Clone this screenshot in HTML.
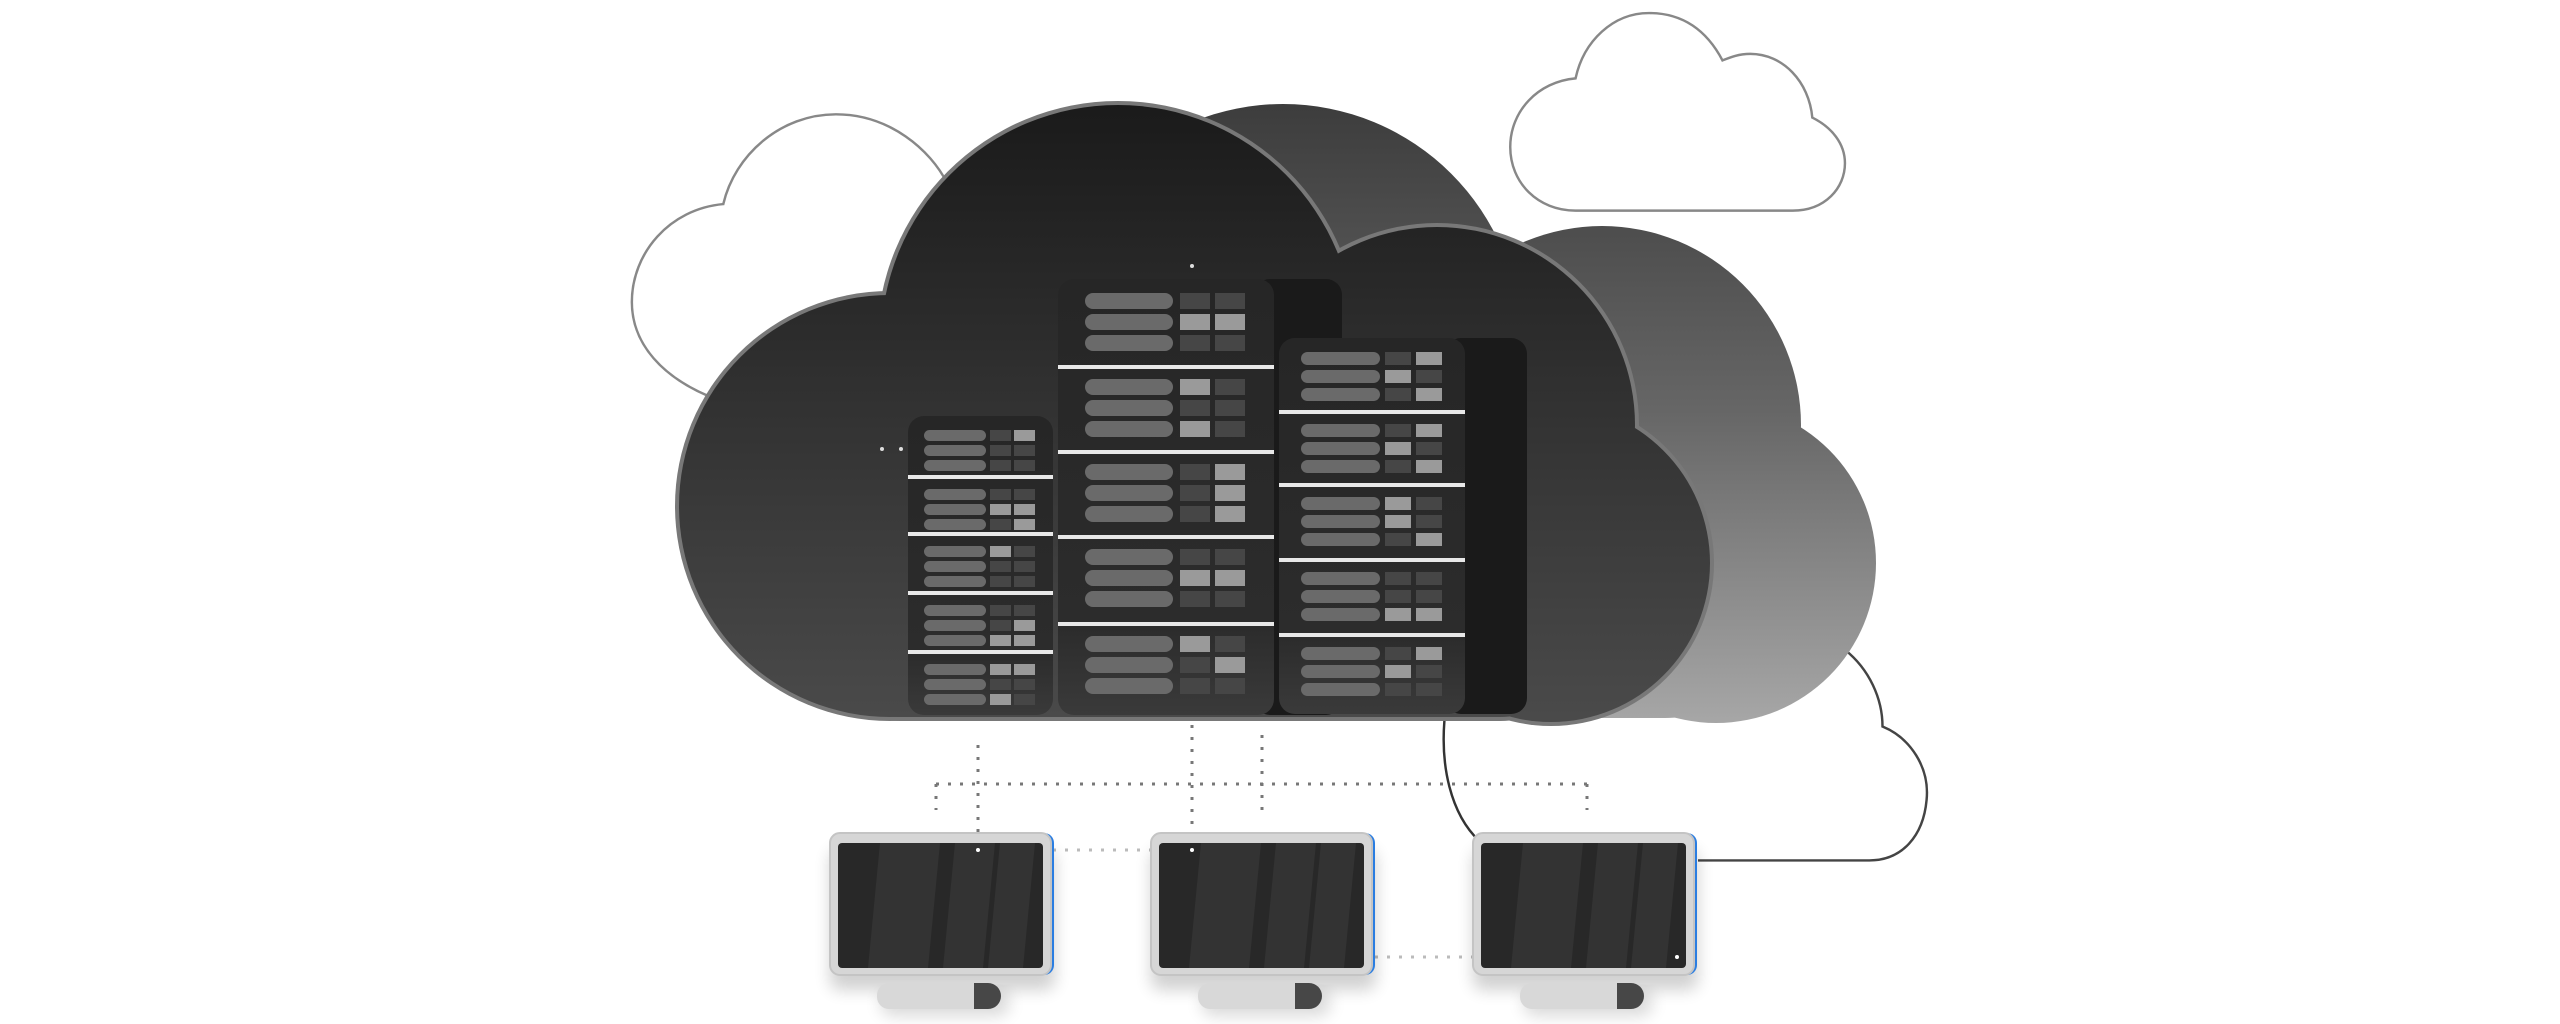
<!DOCTYPE html>
<html><head><meta charset="utf-8"><style>html,body{margin:0;padding:0;background:#fff;width:2560px;height:1024px;overflow:hidden}</style></head>
<body>
<svg id="s" width="2560" height="1024" viewBox="0 0 2560 1024" xmlns="http://www.w3.org/2000/svg">
<defs>
<linearGradient id="gb" gradientUnits="userSpaceOnUse" x1="0" y1="100" x2="0" y2="720"><stop offset="0" stop-color="#3c3c3c"/><stop offset="0.5" stop-color="#666"/><stop offset="1" stop-color="#a6a6a6"/></linearGradient>
<linearGradient id="gf" gradientUnits="userSpaceOnUse" x1="0" y1="100" x2="0" y2="720"><stop offset="0" stop-color="#1a1a1a"/><stop offset="1" stop-color="#4a4a4a"/></linearGradient>
<linearGradient id="gr" x1="0" y1="0" x2="0" y2="1"><stop offset="0" stop-color="#262626"/><stop offset="0.8" stop-color="#2c2c2c"/><stop offset="1" stop-color="#3a3a3a"/></linearGradient>
<filter id="sh" x="-20%" y="-20%" width="140%" height="160%"><feGaussianBlur stdDeviation="8"/></filter>
</defs>
<g transform="scale(1.6327)" stroke-width="1.5" fill="#fff">
<!-- back left outline cloud -->
<path d="M440,245 C405,232 387,210 387,185 C387,155 410,128 443,125 C450,95 478,70 512,70 C545,70 570,92 580,112 L580,245 Z" stroke="#888"/>
<!-- top right outline cloud -->
<path d="M965,129 L1098,129 C1118,129 1130,115 1130,100 C1130,88 1122,78 1110,72 C1108,50 1092,33 1072,33 C1065,33 1060,35 1055,37 C1045,18 1030,8 1010,8 C988,8 970,25 965,48 C942,50 925,68 925,90 C925,112 942,129 965,129 Z" stroke="#888"/>
<!-- lower right outline cloud -->
<path d="M1130,398 C1145,410 1153,428 1153,445 C1170,452 1182,470 1180,490 C1178,512 1165,527 1145,527 L1040,527" fill="none" stroke="#444"/>
<path d="M886,430 C880,470 890,500 906,515" fill="none" stroke="#333"/>
</g>
<!-- back extruded cloud -->
<g transform="translate(165,0)" fill="url(#gb)">
<circle cx="890" cy="506" r="212"/><circle cx="1118" cy="342" r="238"/><circle cx="1437" cy="425" r="199"/><circle cx="1551" cy="563" r="160"/>
<rect x="800" y="500" width="800" height="218" rx="100"/>
</g>
<!-- front cloud -->
<g fill="#787878">
<circle cx="890" cy="506" r="215"/><circle cx="1118" cy="342" r="241"/><circle cx="1437" cy="425" r="202"/><circle cx="1551" cy="563" r="163"/>
<rect x="797" y="500" width="806" height="221" rx="103"/>
</g>
<g fill="url(#gf)">
<circle cx="890" cy="506" r="211"/><circle cx="1118" cy="342" r="237"/><circle cx="1437" cy="425" r="198"/><circle cx="1551" cy="563" r="159"/>
<rect x="801" y="500" width="798" height="217" rx="99"/>
</g>
<g id="racks"></g>
<g fill="#ddd"><circle cx="1192" cy="266" r="2"/><circle cx="882" cy="449" r="2"/><circle cx="901" cy="449" r="2"/></g>
<g stroke="#777" stroke-width="3" stroke-dasharray="3 9" fill="none">
<line x1="936" y1="784" x2="1587" y2="784"/>
<line x1="978" y1="745" x2="978" y2="849"/>
<line x1="1192" y1="725" x2="1192" y2="849"/>
<line x1="1262" y1="735" x2="1262" y2="810"/>
<line x1="936" y1="784" x2="936" y2="810"/>
<line x1="1587" y1="784" x2="1587" y2="810"/>
<line x1="1053" y1="850" x2="1151" y2="850" stroke="#bbb"/>
<line x1="1375" y1="957" x2="1473" y2="957" stroke="#bbb"/>
</g>
<g id="mons"></g>
</svg>
<script>
var NS="http://www.w3.org/2000/svg";
function el(p,t,a){var e=document.createElementNS(NS,t);for(var k in a)e.setAttribute(k,a[k]);p.appendChild(e);return e;}
var R=document.getElementById('racks');
var seed=7;function rnd(){seed=(seed*9301+49297)%233280;return seed/233280;}
function rack(x,y,w,ext,h,divs,ph,pgap,px,pw,sx1,sx2,sw){
 if(ext) el(R,'rect',{x:x+w-20,y:y,width:ext+20,height:h,rx:16,fill:'#1a1a1a'});
 el(R,'rect',{x:x,y:y,width:w,height:h,rx:16,fill:'url(#gr)'});
 var tops=[y].concat(divs);
 for(var i=0;i<tops.length;i++){
  var t=tops[i]+ (i?12:14);
  for(var j=0;j<3;j++){
   var yy=t+j*pgap;
   if(yy+ph>y+h-4)break;
   el(R,'rect',{x:px,y:yy,width:pw,height:ph,rx:ph/2,fill:'#6a6a6a'});
   el(R,'rect',{x:sx1,y:yy,width:sw,height:ph,fill:rnd()<0.35?'#9a9a9a':'#464646'});
   el(R,'rect',{x:sx2,y:yy,width:sw,height:ph,fill:rnd()<0.4?'#9a9a9a':'#464646'});
  }
 }
 for(var i=0;i<divs.length;i++) el(R,'rect',{x:x,y:divs[i]-2,width:w,height:4,fill:'#e8e8e8'});
}
rack(1058,279,216,68,436,[367,452,537,624],16,21,1085,88,1180,1215,30);
rack(1279,338,186,62,376,[412,485,560,635],13,18,1301,79,1385,1416,26);
rack(908,416,145,0,299,[477,534,593,652],11,15,924,62,990,1014,21);
var M=document.getElementById('mons');
[830,1151,1473].forEach(function(x,i){
 el(M,'rect',{x:x,y:850,width:225,height:140,rx:10,fill:'#000',opacity:0.18,filter:'url(#sh)'});
 el(M,'rect',{x:x+2,y:833,width:222,height:142,rx:10,fill:'#2a7de1'});
 el(M,'rect',{x:x,y:833,width:221,height:142,rx:10,fill:'#d6d6d6',stroke:'#c4c4c4','stroke-width':2});
 el(M,'rect',{x:x+8,y:843,width:205,height:125,rx:4,fill:'#282828'});
 [[30,60],[105,40],[150,35]].forEach(function(s){
  el(M,'polygon',{points:(x+8+s[0]+12)+',843 '+(x+8+s[0]+12+s[1])+',843 '+(x+8+s[0]+s[1])+',968 '+(x+8+s[0])+',968',fill:'#333'});
 });
 el(M,'rect',{x:x+50,y:990,width:130,height:26,rx:13,fill:'#000',opacity:0.15,filter:'url(#sh)'});
 el(M,'rect',{x:x+47,y:983,width:123,height:26,rx:12,fill:'#d8d8d8'});
 el(M,'path',{d:'M'+(x+144)+',983 h14 a13,13 0 0 1 13,13 a13,13 0 0 1 -13,13 h-14 z',fill:'#474747'});
});
el(M,'circle',{cx:978,cy:850,r:2,fill:'#fff'});
el(M,'circle',{cx:1192,cy:850,r:2,fill:'#fff'});
el(M,'circle',{cx:1677,cy:957,r:2,fill:'#fff'});
</script>
</body></html>
